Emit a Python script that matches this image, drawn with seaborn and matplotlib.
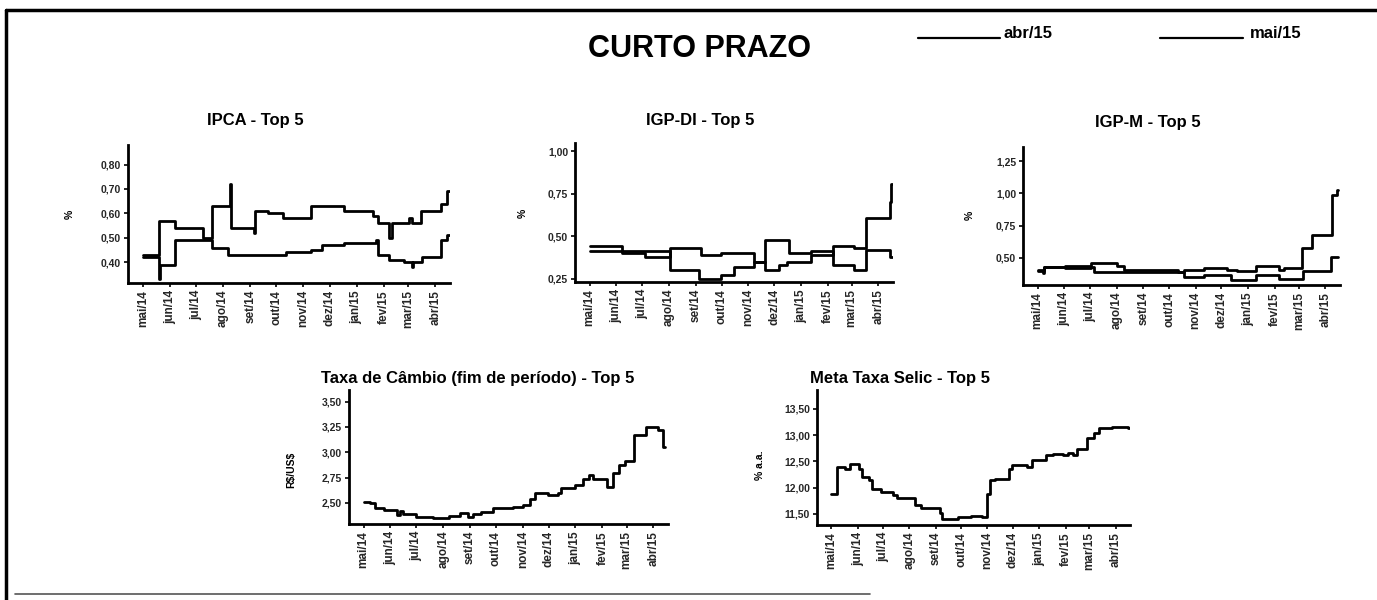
import matplotlib
matplotlib.use("Agg")
import matplotlib.pyplot as plt
import matplotlib.dates as mdates
from matplotlib.ticker import FuncFormatter, FixedLocator
from matplotlib.lines import Line2D
import seaborn as sns
import pandas as pd

# ---------------- data ----------------
month_ticks = ["2014-05-01", "2014-06-01", "2014-07-01", "2014-08-01", "2014-09-01", "2014-10-01",
               "2014-11-01", "2014-12-01", "2015-01-01", "2015-02-01", "2015-03-01", "2015-04-01"]
month_labels = ["mai/14", "jun/14", "jul/14", "ago/14", "set/14", "out/14",
                "nov/14", "dez/14", "jan/15", "fev/15", "mar/15", "abr/15"]
legend_labels = ["abr/15", "mai/15"]

# IPCA - Top 5 (% a.m.)
ipca_a_dates = ["2014-05-01", "2014-05-20", "2014-06-07", "2014-07-09", "2014-07-19", "2014-08-09",
                "2014-08-10", "2014-09-05", "2014-09-07", "2014-09-21", "2014-10-09", "2014-11-10",
                "2014-12-18", "2015-01-20", "2015-01-25", "2015-02-07", "2015-02-10", "2015-03-02",
                "2015-03-05", "2015-03-16", "2015-04-08", "2015-04-15", "2015-04-18"]
ipca_a_vals = [0.43, 0.57, 0.54, 0.50, 0.63, 0.72, 0.54, 0.52, 0.61, 0.60, 0.58, 0.63,
               0.61, 0.59, 0.56, 0.50, 0.56, 0.58, 0.56, 0.61, 0.64, 0.69, 0.69]
ipca_b_dates = ["2014-05-01", "2014-05-20", "2014-05-21", "2014-06-07", "2014-07-19", "2014-08-07",
                "2014-10-12", "2014-11-10", "2014-11-22", "2014-12-18", "2015-01-23", "2015-01-25",
                "2015-02-07", "2015-02-24", "2015-03-05", "2015-03-07", "2015-03-17", "2015-04-08",
                "2015-04-15", "2015-04-18"]
ipca_b_vals = [0.42, 0.33, 0.39, 0.49, 0.46, 0.43, 0.44, 0.45, 0.47, 0.48, 0.49, 0.43,
               0.41, 0.40, 0.38, 0.40, 0.42, 0.49, 0.51, 0.51]

# IGP-DI - Top 5
igpdi_a_dates = ["2014-05-01", "2014-06-07", "2014-08-02", "2014-09-05", "2014-09-30", "2014-10-15",
                 "2014-11-08", "2014-11-20", "2014-12-07", "2014-12-16", "2015-01-13", "2015-02-07",
                 "2015-03-04", "2015-03-18", "2015-04-14", "2015-04-16", "2015-04-18"]
igpdi_a_vals = [0.44, 0.41, 0.30, 0.25, 0.27, 0.32, 0.35, 0.30, 0.33, 0.35, 0.39, 0.44,
                0.43, 0.61, 0.70, 0.81, 0.81]
igpdi_b_dates = ["2014-05-01", "2014-06-07", "2014-07-04", "2014-08-02", "2014-09-07", "2014-09-30",
                 "2014-11-08", "2014-11-20", "2014-12-18", "2015-01-13", "2015-02-07", "2015-03-04",
                 "2015-03-18", "2015-04-14", "2015-04-18"]
igpdi_b_vals = [0.41, 0.40, 0.38, 0.43, 0.39, 0.40, 0.35, 0.48, 0.40, 0.41, 0.33, 0.30,
                0.42, 0.38, 0.38]

# IGP-M - Top 5
igpm_a_dates = ["2014-05-01", "2014-05-07", "2014-05-09", "2014-06-02", "2014-07-02", "2014-08-02",
                "2014-08-10", "2014-10-11", "2014-10-18", "2014-11-11", "2014-12-08", "2014-12-19",
                "2015-01-10", "2015-02-06", "2015-02-12", "2015-03-05", "2015-03-16", "2015-04-09",
                "2015-04-14", "2015-04-16"]
igpm_a_vals = [0.41, 0.38, 0.43, 0.44, 0.46, 0.44, 0.41, 0.39, 0.41, 0.42, 0.41, 0.40,
               0.44, 0.41, 0.42, 0.58, 0.68, 0.99, 1.03, 1.03]
igpm_b_dates = ["2014-05-01", "2014-05-09", "2014-06-02", "2014-07-02", "2014-07-06", "2014-10-18",
                "2014-11-11", "2014-12-12", "2015-01-10", "2015-02-06", "2015-03-06", "2015-04-07",
                "2015-04-16"]
igpm_b_vals = [0.40, 0.43, 0.42, 0.43, 0.39, 0.35, 0.37, 0.33, 0.37, 0.34, 0.40, 0.51, 0.51]

# Taxa de Câmbio (fim de período) - Top 5 (R$/US$)
cambio_dates = ["2014-05-01", "2014-05-08", "2014-05-14", "2014-05-25", "2014-06-08", "2014-06-12",
                "2014-06-16", "2014-07-01", "2014-07-20", "2014-08-08", "2014-08-20", "2014-08-30",
                "2014-09-05", "2014-09-14", "2014-09-28", "2014-10-21", "2014-11-01", "2014-11-09",
                "2014-11-15", "2014-11-30", "2014-12-12", "2014-12-15", "2014-12-31", "2015-01-10",
                "2015-01-17", "2015-01-21", "2015-02-06", "2015-02-13", "2015-02-20", "2015-02-27",
                "2015-03-10", "2015-03-24", "2015-04-07", "2015-04-12", "2015-04-15"]
cambio_vals = [2.51, 2.50, 2.45, 2.43, 2.38, 2.42, 2.39, 2.36, 2.35, 2.37, 2.40, 2.36,
               2.39, 2.41, 2.45, 2.46, 2.48, 2.54, 2.60, 2.58, 2.60, 2.65, 2.68, 2.74,
               2.77, 2.74, 2.66, 2.79, 2.87, 2.91, 3.17, 3.25, 3.22, 3.05, 3.05]

# Meta Taxa Selic - Top 5 (% a.a.)
selic_dates = ["2014-05-01", "2014-05-07", "2014-05-17", "2014-05-23", "2014-06-02", "2014-06-06",
               "2014-06-14", "2014-06-18", "2014-06-28", "2014-07-13", "2014-07-17", "2014-08-07",
               "2014-08-15", "2014-09-06", "2014-09-08", "2014-09-27", "2014-10-13", "2014-10-25",
               "2014-10-31", "2014-11-04", "2014-11-10", "2014-11-26", "2014-11-30", "2014-12-17",
               "2014-12-23", "2015-01-09", "2015-01-17", "2015-01-29", "2015-02-04", "2015-02-10",
               "2015-02-14", "2015-02-26", "2015-03-06", "2015-03-12", "2015-03-28", "2015-04-16",
               "2015-04-18"]
selic_vals = [11.88, 12.40, 12.35, 12.45, 12.35, 12.20, 12.15, 11.98, 11.92, 11.87, 11.80, 11.67,
              11.62, 11.52, 11.40, 11.45, 11.47, 11.45, 11.88, 12.15, 12.17, 12.35, 12.43, 12.40,
              12.53, 12.62, 12.65, 12.62, 12.67, 12.62, 12.73, 12.95, 13.05, 13.13, 13.15, 13.14,
              13.14]

# ---------------- style ----------------
sns.set_theme(style="white")
plt.rcParams["font.family"] = ["Liberation Sans", "DejaVu Sans"]

W, H = 1377, 600
fig = plt.figure(figsize=(W / 100, H / 100), dpi=100)
fig.patch.set_facecolor("white")


def px_axes(left, top, right, bottom):
    return fig.add_axes([left / W, 1 - bottom / H, (right - left) / W, (bottom - top) / H])


def comma(v, pos):
    return f"{v:.2f}".replace(".", ",")


tick_dates = pd.to_datetime(month_ticks)


def make_panel(box, series, ylim, yticks, title, ylabel, title_xy, ylabel_xy):
    ax = px_axes(*box)
    for d, v in series:
        df = pd.DataFrame({"data": pd.to_datetime(d), "valor": v})
        sns.lineplot(data=df, x="data", y="valor", ax=ax, color="black", linewidth=2.0,
                     drawstyle="steps-post", legend=False)
    ax.set_xlim(pd.Timestamp("2014-04-14"), pd.Timestamp("2015-04-18"))
    ax.set_ylim(*ylim)
    ax.set_xlabel("")
    ax.set_ylabel("")
    ax.xaxis.set_major_locator(FixedLocator(mdates.date2num(tick_dates)))
    ax.set_xticklabels(month_labels, rotation=90, fontsize=8.5, fontweight="bold")
    ax.set_yticks(yticks)
    ax.yaxis.set_major_formatter(FuncFormatter(comma))
    for lab in ax.get_yticklabels():
        lab.set_fontsize(7.5)
        lab.set_fontweight("bold")
    ax.tick_params(axis="both", direction="out", length=3, width=1.2, color="black",
                   bottom=True, left=True, pad=2)
    sns.despine(ax=ax)
    for s in ("left", "bottom"):
        ax.spines[s].set_linewidth(2.0)
        ax.spines[s].set_color("black")
    ax.set_facecolor("white")
    ax.grid(False)
    fig.text(title_xy[0] / W, 1 - title_xy[1] / H, title, ha="center", va="center",
             fontsize=12, fontweight="bold", color="black")
    fig.text(ylabel_xy[0] / W, 1 - ylabel_xy[1] / H, ylabel, ha="center", va="center",
             rotation=90, fontsize=7.5, fontweight="bold", color="black")
    return ax


make_panel((128, 145, 450, 283), [(ipca_a_dates, ipca_a_vals), (ipca_b_dates, ipca_b_vals)],
           (0.315, 0.88), [0.40, 0.50, 0.60, 0.70, 0.80], "IPCA - Top 5", "%",
           (255, 120), (70, 214))
make_panel((575, 143, 893, 282), [(igpdi_a_dates, igpdi_a_vals), (igpdi_b_dates, igpdi_b_vals)],
           (0.23, 1.05), [0.25, 0.50, 0.75, 1.00], "IGP-DI - Top 5", "%",
           (700, 120), (523, 213))
make_panel((1023, 147, 1340, 285), [(igpm_a_dates, igpm_a_vals), (igpm_b_dates, igpm_b_vals)],
           (0.29, 1.36), [0.50, 0.75, 1.00, 1.25], "IGP-M - Top 5", "%",
           (1148, 122), (970, 215))
make_panel((349, 390, 668, 524), [(cambio_dates, cambio_vals)],
           (2.29, 3.616), [2.50, 2.75, 3.00, 3.25, 3.50],
           "Taxa de Câmbio (fim de período) - Top 5", r"R\$/US\$", (478, 378), (291, 470))
make_panel((817, 390, 1130, 525), [(selic_dates, selic_vals)],
           (11.29, 13.86), [11.50, 12.00, 12.50, 13.00, 13.50],
           "Meta Taxa Selic - Top 5", "% a.a.", (900, 378), (760, 465))

# header
fig.text(700 / W, 1 - 49 / H, "CURTO PRAZO", ha="center", va="center",
         fontsize=22, fontweight="bold", color="black")
for (x0, x1, tx), lab in zip([(918, 1000, 1004), (1160, 1243, 1250)], legend_labels):
    fig.add_artist(Line2D([x0 / W, x1 / W], [1 - 38 / H, 1 - 38 / H], color="black",
                          linewidth=1.6, transform=fig.transFigure))
    fig.text(tx / W, 1 - 34 / H, lab, ha="left", va="center", fontsize=12,
             fontweight="bold", color="black")

# page frame
fig.add_artist(Line2D([6 / W, 1.0], [1 - 10 / H, 1 - 10 / H], color="black", linewidth=2.5,
                      transform=fig.transFigure))
fig.add_artist(Line2D([6 / W, 6 / W], [1 - 10 / H, 0.0], color="black", linewidth=2.5,
                      transform=fig.transFigure))
fig.add_artist(Line2D([15 / W, 870 / W], [1 - 594 / H, 1 - 594 / H], color="#555555",
                      linewidth=1.2, transform=fig.transFigure))

fig.savefig("out.png", dpi=100, facecolor="white")
